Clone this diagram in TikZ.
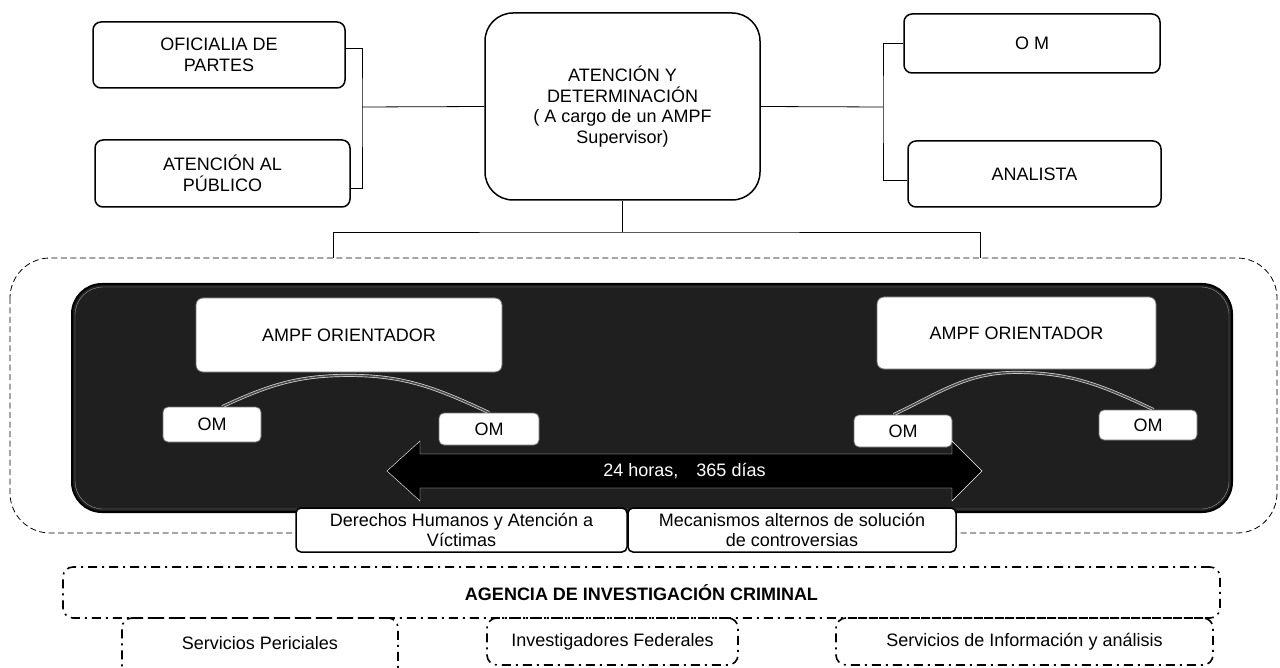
\documentclass[tikz,border=0pt]{standalone}
\usepackage{fontspec}
\setmainfont{Liberation Sans}
\newcommand{\lbl}{\fontsize{18}{20.5}\selectfont}

\begin{document}
\begin{tikzpicture}[x=1pt,y=-1pt,
    box/.style={draw,line width=1.5pt,rounded corners=8pt,align=center,font=\lbl,inner sep=0pt},
    inbox/.style={draw=black!55,fill=white,thick,rounded corners=7pt,align=center,font=\lbl,inner sep=0pt},
    tab/.style={draw,line width=1.5pt,fill=white,rounded corners=5pt,align=center,font=\lbl,inner sep=0pt},
    dotbox/.style={draw,line width=1.6pt,dash pattern=on 9pt off 5pt on 2pt off 5pt,rounded corners=10pt,align=center,font=\lbl,inner sep=0pt},
    link/.style={draw=white!85!black,double=black!70,double distance=1.6pt,line width=0.7pt}]
    \useasboundingbox (0,0) rectangle (1280,668);
    \clip (0,0) rectangle (1280,668);
    \node[box,minimum width=252pt,minimum height=66pt] (ofic) at (219,55) {OFICIALIA DE\\PARTES};
    \node[box,minimum width=255pt,minimum height=67pt] (publ) at (222.5,173.5) {ATENCIÓN AL\\PÚBLICO};
    \node[box,rounded corners=28pt,minimum width=275pt,minimum height=187pt] (aten) at (622.5,106.5) {ATENCIÓN Y\\DETERMINACIÓN\\( A cargo de un AMPF\\Supervisor)};
    \node[box,minimum width=256pt,minimum height=59pt] (om) at (1032,43.5) {O M};
    \node[box,minimum width=253pt,minimum height=66pt] (anal) at (1034.5,174) {ANALISTA};
    \coordinate (lb) at (362,107);
    \coordinate (rb) at (883,107);
    \coordinate (hub) at (622.5,232);
    \coordinate (bl) at (333,258);
    \coordinate (br) at (980,258);
    \draw[thick] ([yshift=7pt]ofic.east) -| (lb) |- ([yshift=-14.5pt]publ.east);
    \draw[thick] (lb) -- (aten.west);
    \draw[thick] (aten.east) -- (rb);
    \draw[thick] (om.west) -| (rb) |- ([yshift=-6pt]anal.west);
    \draw[thick] (aten.south) -- (hub);
    \draw[thick] (bl) |- (hub) -| (br);
    \draw[thick,dash pattern=on 6pt off 3.5pt,rounded corners=40pt] (10,258) rectangle (1277,533);
    \draw[line width=2pt,fill=black!88,rounded corners=30pt] (72,284) rectangle (1232,512);
    \draw[white!60!black,thin,rounded corners=28pt] (75,287) rectangle (1229,509);
    \node[inbox,minimum width=306pt,minimum height=74pt] (ampfL) at (349,335) {AMPF ORIENTADOR};
    \node[inbox,minimum width=279pt,minimum height=72pt] (ampfR) at (1016.5,333) {AMPF ORIENTADOR};
    \node[inbox,rounded corners=5pt,minimum width=98pt,minimum height=35pt] (omA) at (212,424.5) {OM};
    \node[inbox,rounded corners=5pt,minimum width=100pt,minimum height=32pt] (omB) at (489,429) {OM};
    \node[inbox,rounded corners=5pt,minimum width=98pt,minimum height=32pt] (omC) at (903,431) {OM};
    \node[inbox,rounded corners=5pt,minimum width=98pt,minimum height=30pt] (omD) at (1148,425) {OM};
    \draw[link] (omA.60) to[out=25,in=180] ([yshift=-3pt]ampfL.south) to[out=0,in=155] (omB.north);
    \draw[link] (omC.120) to[out=25,in=180] ([yshift=-3pt]ampfR.south) to[out=0,in=155] (omD.70);
    \filldraw[fill=black,draw=white,thin] (387,471) -- (420,441) -- (420,454) -- (952,454) -- (952,441) -- (982,471)
      -- (952,501) -- (952,488) -- (420,488) -- (420,501) -- cycle;
    \node[font=\lbl,text=white] (span) at (684.5,471) {24 horas,\hspace{1em}365 días};
    \node[tab,minimum width=331pt,minimum height=44pt] (dh) at (461.5,530) {Derechos Humanos y Atención a\\Víctimas};
    \node[tab,minimum width=328pt,minimum height=44pt] (masc) at (792,530) {Mecanismos alternos de solución\\de controversias};
    \node[dotbox,minimum width=1157pt,minimum height=51pt,font=\lbl\bfseries] (aic) at (641.5,592.5) {AGENCIA DE INVESTIGACIÓN CRIMINAL};
    \node[dotbox,minimum width=276pt,minimum height=72pt,text depth=22pt] (peri) at (260,654) {Servicios Periciales};
    \node[dotbox,minimum width=251pt,minimum height=47pt] (inv) at (612.5,641.5) {Investigadores Federales};
    \node[dotbox,minimum width=377pt,minimum height=47pt] (sia) at (1024.5,641.5) {Servicios de Información y análisis};
\end{tikzpicture}
\end{document}
